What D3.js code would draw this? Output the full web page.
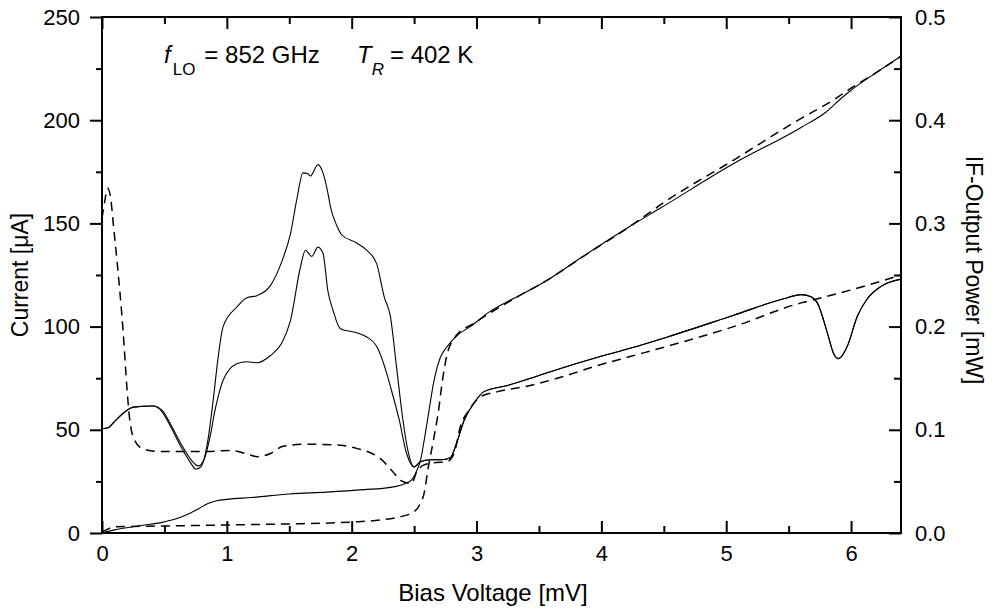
<!DOCTYPE html>
<html>
<head>
<meta charset="utf-8">
<script src="https://cdn.jsdelivr.net/npm/d3@7"></script>
<style>
    body { margin: 0; background: #fff; }
    text { font-family: "Liberation Sans", Arial, sans-serif; fill: #000; }
</style>
</head>
<body>
<script>
"use strict";

// bias voltage [mV] / current [uA] pairs
const ivUnpumped = [
    [0, 0.5], [0.05, 2], [0.1, 3], [0.5, 3.4], [1.0, 3.9], [1.5, 4.4], [2.0, 5.3],
    [2.23, 6.3], [2.39, 7.9], [2.5, 10.3], [2.55, 14.4], [2.58, 19.2], [2.61, 30.5],
    [2.66, 46.7], [2.7, 61.2], [2.72, 70.9], [2.76, 85.4], [2.83, 95.1], [2.98, 101.6],
    [3.3, 113.5], [3.57, 122.6], [3.83, 133], [4.23, 148.6], [4.53, 161.3], [5.06, 180.7],
    [5.6, 200.9], [5.86, 209.8], [6.0, 215.5], [6.2, 223], [6.4, 231]
]
const ivPumped = [
    [0, 0], [0.1, 1.5], [0.3, 3.5], [0.5, 5.4], [0.6, 7], [0.7, 9.5], [0.78, 12],
    [0.84, 14], [0.92, 15.6], [1.0, 16.3], [1.2, 17.2], [1.5, 18.9], [1.8, 19.8],
    [2.1, 21], [2.31, 22.1], [2.43, 24], [2.48, 25.7], [2.52, 30], [2.55, 35],
    [2.6, 52], [2.66, 74], [2.71, 85], [2.76, 90], [2.85, 96], [2.95, 100], [3.1, 107],
    [3.3, 113.7], [3.57, 122.6], [3.83, 133.1], [4.23, 148.6], [4.47, 157.3],
    [5.06, 179], [5.6, 196.5], [5.8, 204], [5.92, 210.5], [6.0, 214.5], [6.2, 223], [6.4, 231]
]

// bias voltage [mV] / IF output power [mW]
const ifUnpumped = [
    [0, 0.305], [0.02, 0.32], [0.045, 0.334], [0.07, 0.324], [0.09, 0.3], [0.12, 0.264],
    [0.17, 0.194], [0.2, 0.14], [0.22, 0.112], [0.25, 0.093], [0.32, 0.082], [0.45, 0.079],
    [0.57, 0.079], [0.84, 0.079], [1.03, 0.08], [1.15, 0.077], [1.24, 0.074], [1.35, 0.077],
    [1.45, 0.084], [1.64, 0.086], [1.91, 0.085], [2.04, 0.082], [2.23, 0.072], [2.34, 0.058],
    [2.39, 0.051], [2.48, 0.048], [2.52, 0.059], [2.58, 0.066], [2.66, 0.068], [2.76, 0.069],
    [2.82, 0.077], [2.87, 0.103], [2.94, 0.119], [3.03, 0.132], [3.17, 0.137], [3.43, 0.143],
    [3.62, 0.149], [3.99, 0.163], [4.23, 0.171], [4.53, 0.181], [5.06, 0.2], [5.6, 0.223],
    [5.7, 0.226], [6.13, 0.24], [6.4, 0.25]
]
const ifPumpedA = [
    [0, 0.101], [0.05, 0.102], [0.1, 0.108], [0.17, 0.116], [0.25, 0.122], [0.41, 0.123],
    [0.47, 0.119], [0.55, 0.103], [0.63, 0.084], [0.71, 0.068], [0.75, 0.062], [0.79, 0.064],
    [0.84, 0.084], [0.89, 0.128], [0.93, 0.17], [0.97, 0.2], [1.08, 0.219], [1.16, 0.228],
    [1.24, 0.23], [1.35, 0.24], [1.44, 0.263], [1.51, 0.29], [1.56, 0.323], [1.61, 0.349],
    [1.65, 0.348], [1.67, 0.346], [1.73, 0.357], [1.77, 0.349], [1.81, 0.329], [1.83, 0.316],
    [1.88, 0.298], [1.92, 0.289], [2.04, 0.281], [2.12, 0.274], [2.2, 0.261], [2.26, 0.229],
    [2.31, 0.21], [2.36, 0.16], [2.41, 0.11], [2.45, 0.08], [2.5, 0.064], [2.55, 0.069],
    [2.63, 0.071], [2.72, 0.071], [2.79, 0.073], [2.84, 0.087], [2.9, 0.109], [2.98, 0.126],
    [3.06, 0.137], [3.25, 0.143], [3.46, 0.151], [3.56, 0.155], [3.99, 0.171], [4.23, 0.179],
    [4.53, 0.19], [5.06, 0.211], [5.46, 0.227], [5.6, 0.231], [5.68, 0.229], [5.73, 0.223],
    [5.81, 0.194], [5.86, 0.174], [5.9, 0.169], [5.97, 0.181], [6.05, 0.21], [6.13, 0.227],
    [6.24, 0.239], [6.4, 0.246]
]
const ifPumpedB = [
    [0, 0.101], [0.05, 0.102], [0.1, 0.108], [0.17, 0.116], [0.25, 0.122], [0.41, 0.123],
    [0.48, 0.119], [0.56, 0.103], [0.64, 0.085], [0.72, 0.07], [0.77, 0.065], [0.82, 0.072],
    [0.87, 0.096], [0.9, 0.116], [0.93, 0.132], [0.97, 0.148], [1.08, 0.164], [1.16, 0.166],
    [1.24, 0.165], [1.35, 0.172], [1.44, 0.184], [1.51, 0.206], [1.59, 0.258], [1.63, 0.274],
    [1.68, 0.268], [1.73, 0.277], [1.77, 0.271], [1.81, 0.234], [1.85, 0.216], [1.91, 0.198],
    [2.04, 0.194], [2.12, 0.19], [2.2, 0.181], [2.28, 0.155], [2.31, 0.142], [2.38, 0.11],
    [2.44, 0.077], [2.5, 0.064], [2.55, 0.069], [2.63, 0.071], [2.72, 0.071], [2.79, 0.073],
    [2.84, 0.087], [2.9, 0.109], [2.98, 0.126], [3.06, 0.137], [3.25, 0.143], [3.46, 0.151],
    [3.56, 0.155], [3.99, 0.171], [4.23, 0.179], [4.53, 0.19], [5.06, 0.211], [5.46, 0.227],
    [5.6, 0.231], [5.68, 0.229], [5.73, 0.223], [5.81, 0.194], [5.86, 0.174], [5.9, 0.169],
    [5.97, 0.181], [6.05, 0.21], [6.13, 0.227], [6.24, 0.239], [6.4, 0.246]
]

// ticks
const xMajor = [0, 1, 2, 3, 4, 5, 6]
const xMinor = [0.5, 1.5, 2.5, 3.5, 4.5, 5.5]
const yMajor = [0, 50, 100, 150, 200, 250]
const yMinor = [25, 75, 125, 175, 225]
const pMajor = [0, 0.1, 0.2, 0.3, 0.4, 0.5]
const pMinor = [0.05, 0.15, 0.25, 0.35, 0.45]

const measurements = { width: 995, height: 614, left: 102, right: 901, top: 17, bottom: 533 }

const svg = d3.select("body").append("svg")
    .attr("width", measurements.width)
    .attr("height", measurements.height)

const scaleX = d3.scaleLinear().domain([0, 6.4]).range([measurements.left, measurements.right])
const scaleY = d3.scaleLinear().domain([0, 250]).range([measurements.bottom, measurements.top])
const scaleP = d3.scaleLinear().domain([0, 0.5]).range([measurements.bottom, measurements.top])

// curves
const ivLine = d3.line().x(d => scaleX(d[0])).y(d => scaleY(d[1])).curve(d3.curveMonotoneX)
const ifLine = d3.line().x(d => scaleX(d[0])).y(d => scaleP(d[1])).curve(d3.curveMonotoneX)

const plot = svg.append("g")
function drawCurve(data, lineFn, dashed) {
    plot.append("path")
        .datum(data)
        .attr("d", lineFn)
        .attr("fill", "none")
        .attr("stroke", "#000")
        .attr("stroke-width", dashed ? 1.5 : 1.1)
        .attr("stroke-dasharray", dashed ? "9,6" : null)
}
drawCurve(ivUnpumped, ivLine, true)
drawCurve(ivPumped, ivLine, false)
drawCurve(ifUnpumped, ifLine, true)
drawCurve(ifPumpedA, ifLine, false)
drawCurve(ifPumpedB, ifLine, false)

// axes: left ticks point out, the other three point in
function styleAxis(g) {
    g.select(".domain").remove()
    g.selectAll("line").attr("stroke", "#000").attr("stroke-width", 2)
    g.selectAll("text").style("font-size", "22px")
}
svg.append("g")
    .attr("transform", `translate(0,${measurements.bottom})`)
    .call(d3.axisBottom(scaleX).tickValues(xMajor).tickSizeInner(-12).tickPadding(12).tickFormat(d3.format("d")))
    .call(styleAxis)
svg.append("g")
    .attr("transform", `translate(0,${measurements.bottom})`)
    .call(d3.axisBottom(scaleX).tickValues(xMinor).tickSizeInner(-7).tickFormat(""))
    .call(styleAxis)
svg.append("g")
    .attr("transform", `translate(0,${measurements.top})`)
    .call(d3.axisTop(scaleX).tickValues(xMajor).tickSizeInner(-12).tickFormat(""))
    .call(styleAxis)
svg.append("g")
    .attr("transform", `translate(0,${measurements.top})`)
    .call(d3.axisTop(scaleX).tickValues(xMinor).tickSizeInner(-7).tickFormat(""))
    .call(styleAxis)
svg.append("g")
    .attr("transform", `translate(${measurements.left},0)`)
    .call(d3.axisLeft(scaleY).tickValues(yMajor).tickSizeInner(12).tickPadding(10))
    .call(styleAxis)
svg.append("g")
    .attr("transform", `translate(${measurements.left},0)`)
    .call(d3.axisLeft(scaleY).tickValues(yMinor).tickSizeInner(6).tickFormat(""))
    .call(styleAxis)
svg.append("g")
    .attr("transform", `translate(${measurements.right},0)`)
    .call(d3.axisRight(scaleP).tickValues(pMajor).tickSizeInner(-12).tickPadding(14).tickFormat(d3.format(".1f")))
    .call(styleAxis)
svg.append("g")
    .attr("transform", `translate(${measurements.right},0)`)
    .call(d3.axisRight(scaleP).tickValues(pMinor).tickSizeInner(-7).tickFormat(""))
    .call(styleAxis)

// frame
svg.append("rect")
    .attr("x", measurements.left)
    .attr("y", measurements.top)
    .attr("width", measurements.right - measurements.left)
    .attr("height", measurements.bottom - measurements.top)
    .attr("fill", "none")
    .attr("stroke", "#000")
    .attr("stroke-width", 2)

// axis titles
svg.append("text")
    .attr("x", 493).attr("y", 601)
    .attr("text-anchor", "middle")
    .style("font-size", "24px")
    .text("Bias Voltage [mV]")
svg.append("text")
    .attr("transform", "translate(20,275)rotate(-90)")
    .attr("text-anchor", "middle")
    .attr("dominant-baseline", "central")
    .style("font-size", "23px")
    .text("Current [μA]")
svg.append("text")
    .attr("transform", "translate(974,270)rotate(90)")
    .attr("text-anchor", "middle")
    .attr("dominant-baseline", "central")
    .style("font-size", "23px")
    .text("IF-Output Power [mW]")

// annotation
const note = svg.append("text").attr("y", 63).style("font-size", "24px")
note.append("tspan").attr("x", 164).style("font-style", "italic").text("f")
note.append("tspan").attr("dy", 12).attr("dx", 2).style("font-size", "17px").text("LO")
note.append("tspan").attr("dy", -12).attr("dx", 9).text("= 852 GHz")
note.append("tspan").attr("x", 357).style("font-style", "italic").text("T")
note.append("tspan").attr("dy", 12).attr("dx", 0).style("font-size", "17px").style("font-style", "italic").text("R")
note.append("tspan").attr("dy", -12).attr("dx", 6).text("= 402 K")
</script>
</body>
</html>
